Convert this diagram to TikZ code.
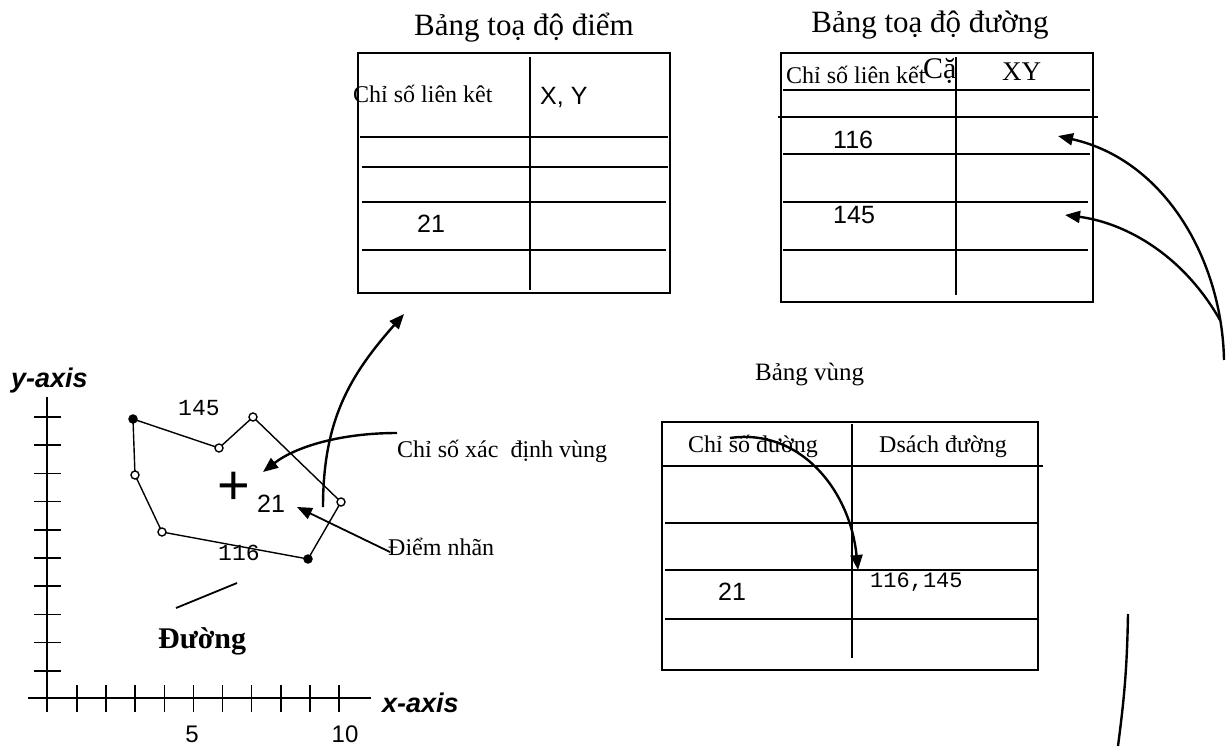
\documentclass[tikz,border=0pt]{standalone}
\usepackage{fontspec}
\setmainfont{Liberation Serif}
\setsansfont{Liberation Sans}
\setmonofont{Liberation Mono}
\usetikzlibrary{arrows.meta}
\newcommand{\fsz}[1]{\fontsize{#1}{#1}\selectfont}
\tikzset{
  tbl/.style={line width=2pt},
  row/.style={line width=1.8pt},
  ax/.style={line width=1.6pt},
  poly/.style={line width=1.4pt},
  arr/.style={line width=2.4pt,-{Triangle[length=15pt,width=12pt]}},
  plainarc/.style={line width=2.4pt},
  txt/.style={inner sep=0pt,anchor=base west,font=\fsz{24}},
  ttl/.style={inner sep=0pt,anchor=base,font=\fsz{31}},
  num/.style={inner sep=0pt,anchor=base west,font=\sffamily\fsz{25}},
  mono/.style={inner sep=0pt,anchor=base west,font=\ttfamily\fsz{23}},
  axlbl/.style={inner sep=0pt,anchor=base west,font=\sffamily\bfseries\itshape\fsz{27}},
  opendot/.style={circle,draw,fill=white,line width=1.4pt,inner sep=0pt,minimum size=8pt},
  fulldot/.style={circle,draw,fill=black,line width=1.4pt,inner sep=0pt,minimum size=8pt}
}
\begin{document}
\begin{tikzpicture}[x=1pt,y=-1pt]
\useasboundingbox (0,0) rectangle (1226,747);

% ---------- Table 1: Bang toa do diem ----------
\node[ttl] (t1title) at (524,35) {Bảng toạ độ điểm};
\draw[tbl] (358,53) rectangle (670,293);
\draw[row] (530,57) -- (530,290);
\draw[row] (360,137) -- (668,137);
\draw[row] (362,167) -- (668,167);
\draw[row] (362,202) -- (666,202);
\draw[row] (362,250) -- (666,250);
\node[txt] (t1h1) at (353,102) {Chỉ số liên kêt};
\node[num] (t1h2) at (540,104) {X, Y};
\node[num] (t1r21) at (417,232) {21};

% ---------- Table 2: Bang toa do duong ----------
\node[ttl] (t2title) at (930,32) {Bảng toạ độ đường};
\draw[tbl] (781,53) rectangle (1093,302);
\draw[row] (956,57) -- (956,295);
\draw[row] (783,90) -- (1090,90);
\draw[row] (778,117) -- (1098,117);
\draw[row] (783,154) -- (1090,154);
\draw[row] (783,202) -- (1088,202);
\draw[row] (783,250) -- (1088,250);
\node[txt] (t2h1) at (786,83) {Chỉ số liên kết};
\node[txt,font=\fsz{30}] (t2h1b) at (923,78) {Cặ};
\node[txt,font=\fsz{27}] (t2h2) at (1002,80) {XY};
\node[num] (t2r116) at (833,148) {116};
\node[num] (t2r145) at (833,223) {145};

% ---------- Region table: Bang vung ----------
\node[txt,font=\fsz{25}] (t3title) at (755,380) {Bảng vùng};
\draw[tbl] (662,422) rectangle (1038,670);
\draw[row] (852,424) -- (852,658);
\draw[row] (662,466) -- (1043,466);
\draw[row] (665,523) -- (1038,523);
\draw[row] (665,570) -- (1038,570);
\draw[row] (665,619) -- (1038,619);
\node[txt] (t3h1) at (688,452) {Chỉ số đường};
\node[txt] (t3h2) at (879,452) {Dsách đường};
\node[num] (t3r21) at (718,600) {21};
\node[mono,font=\ttfamily\fsz{22}] (t3list) at (870,587) {116,145};
\coordinate (t3a) at (730,438);
\coordinate (t3b) at (858,570);
\draw[arr] (t3a) .. controls (800,428) and (850,490) .. (t3b);

% ---------- right side arcs ----------
\coordinate (r1s) at (1224,360);
\coordinate (r1e) at (1058,136);
\coordinate (r2s) at (1220,320);
\coordinate (r2e) at (1065,215);
\draw[arr] (r1s) .. controls (1222,260) and (1165,160) .. (r1e);
\draw[arr] (r2s) .. controls (1180,250) and (1120,222) .. (r2e);
\coordinate (bl1) at (1128,614);
\coordinate (bl2) at (1118,746);
\draw[plainarc] (bl1) .. controls (1127,670) and (1124,700) .. (bl2);

% ---------- axes ----------
\draw[ax] (47,397) -- (47,712);
\draw[ax] (28,698) -- (371,698);
\foreach \k in {0,...,9}{
  \draw[ax] (34,417+\k*28.2) -- (61,417+\k*28.2);
  \draw[ax] (77+\k*29.1,685) -- (77+\k*29.1,712);
}
\node[num,anchor=base,font=\sffamily\fsz{24}] (x5) at (192,742) {5};
\node[num,anchor=base,font=\sffamily\fsz{24}] (x10) at (345,742) {10};
\node[axlbl] (yax) at (11,387) {y-axis};
\node[axlbl] (xax) at (382,712) {x-axis};

% ---------- polygon ----------
\coordinate (pA) at (133,419);
\coordinate (pB) at (219,448);
\coordinate (pC) at (253,417);
\coordinate (pD) at (341,502);
\coordinate (pE) at (308,559);
\coordinate (pF) at (162,532);
\coordinate (pG) at (135,475);
\draw[poly] (pA) -- (pB) -- (pC) -- (pD) -- (pE) -- (pF) -- (pG) -- cycle;
\node[fulldot] (vA) at (pA) {};
\node[opendot] (vB) at (pB) {};
\node[opendot] (vC) at (pC) {};
\node[opendot] (vD) at (pD) {};
\node[fulldot] (vE) at (pE) {};
\node[opendot] (vF) at (pF) {};
\node[opendot] (vG) at (pG) {};
\node[mono] (l145) at (178,415) {145};
\node[mono] (l116) at (218,560) {116};
\node[inner sep=0pt,font=\sffamily\fsz{56}] (plus) at (234,488) {+};
\node[num] (l21) at (257,512) {21};
\coordinate (dl1) at (176,608);
\coordinate (dl2) at (237,583);
\draw[poly,line width=1.8pt] (dl1) -- (dl2);
\node[txt,font=\bfseries\fsz{30}] (duong) at (158,648) {Đường};

% ---------- annotations ----------
\coordinate (upS) at (323,507);
\coordinate (upE) at (404,314);
\draw[arr] (upS) .. controls (323,420) and (350,375) .. (upE);
\node[txt] (csxd) at (397,457) {Chỉ số xác\ \ định vùng};
\coordinate (csS) at (397,433);
\coordinate (csE) at (263,472);
\draw[arr] (csS) .. controls (340,433) and (295,447) .. (csE);
\node[txt] (dn) at (388,555) {Điểm nhãn};
\coordinate (dnS) at (390,552);
\coordinate (dnE) at (297,507);
\draw[arr,line width=1.8pt] (dnS) -- (dnE);
\end{tikzpicture}
\end{document}
